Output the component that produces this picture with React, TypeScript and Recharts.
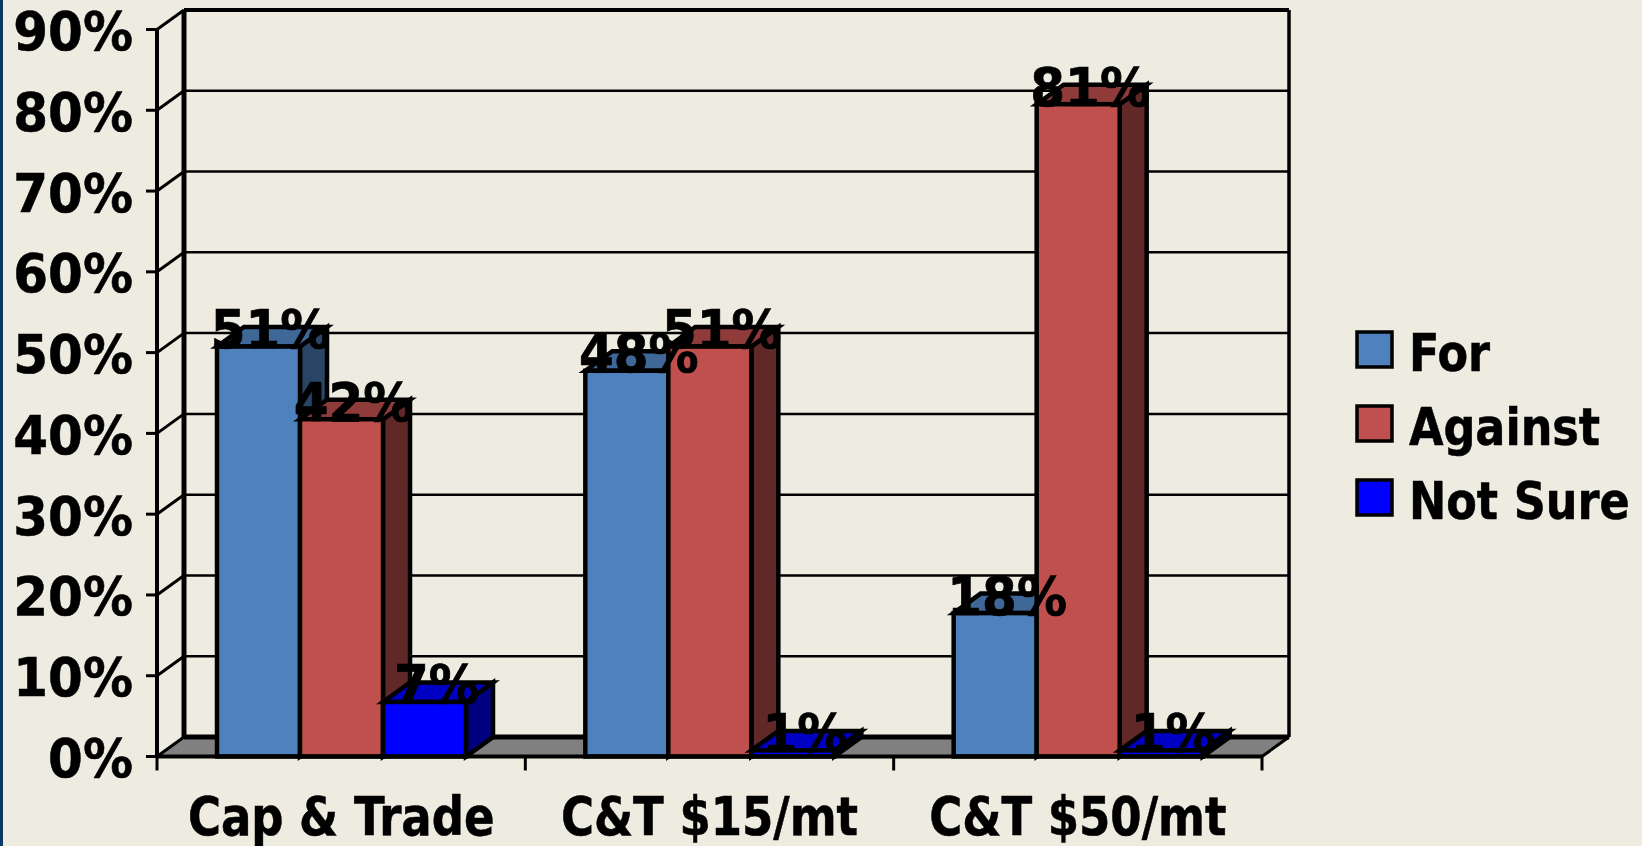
import React from "react";
import { BarChart, Bar, XAxis, YAxis, CartesianGrid, Legend, LabelList } from "recharts";

const categories = ["Cap & Trade", "C&T $15/mt", "C&T $50/mt"];
const forValues = [51, 48, 18];
const againstValues = [42, 51, 81];
const notSureValues = [7, 1, 1];
const yTicks = [0, 10, 20, 30, 40, 50, 60, 70, 80, 90];
const seriesNames = ["For", "Against", "Not Sure"];
const frontColors = ["#4F81BD", "#C0504D", "#0000FF"];
const topColors = ["#3F6797", "#8E3B39", "#0000C4"];
const sideColors = ["#2A4465", "#602827", "#000080"];

const rows = categories.map((category, i) => ({
  category,
  s0: forValues[i],
  s1: againstValues[i],
  s2: notSureValues[i],
}));

const DX = 27;
const DY = 19.5;
const TOP_NUDGE = 2;
const FONT = "'DejaVu Sans', sans-serif";
const FONT_NARROW = "'DejaVu Sans Condensed', 'DejaVu Sans', sans-serif";
const BG = "#EEECE1";

const makeBar = (idx: number) => (p: any) => {
  const { x, width } = p;
  const y = p.y + TOP_NUDGE;
  const height = p.height - TOP_NUDGE;
  const common = { stroke: "#000", strokeWidth: 4.5, strokeLinejoin: "miter" as const };
  return (
    <g>
      <polygon
        points={`${x + width},${y} ${x + width + DX},${y - DY} ${x + width + DX},${y + height - DY} ${x + width},${y + height}`}
        fill={sideColors[idx]}
        {...common}
      />
      <polygon
        points={`${x},${y} ${x + DX},${y - DY} ${x + width + DX},${y - DY} ${x + width},${y}`}
        fill={topColors[idx]}
        {...common}
      />
      <rect x={x} y={y} width={width} height={height} fill={frontColors[idx]} {...common} />
    </g>
  );
};

const barLabel = (p: any) => {
  const { x, y, width, value } = p;
  return (
    <text
      transform={`translate(${x + width / 2 + DX / 2 - 1.5},${y + 3.5}) scale(1,1.05)`}
      textAnchor="middle"
      fontFamily={FONT}
      fontWeight={700}
      fontSize={50}
      fill="#000"
      stroke="#000"
      strokeWidth={0.7}
    >
      {value}%
    </text>
  );
};

const gridLine = (p: any) => {
  const { x, y, width, height, x1, y1, x2 } = p;
  const isBottom = Math.abs(y1 - (y + height)) < 0.5;
  const isTop = Math.abs(y1 - y) < 0.5;
  return (
    <g>
      {isBottom && (
        <polygon
          points={`${x},${y1} ${x + width},${y1} ${x + width + DX},${y1 - DY} ${x + DX},${y1 - DY}`}
          fill="#808080"
        />
      )}
      {isBottom && (
        <line x1={x + width} y1={y1} x2={x + width + DX} y2={y1 - DY} stroke="#000" strokeWidth={3} />
      )}
      {isBottom && (
        <line x1={x + DX} y1={y - DY} x2={x + DX} y2={y1 - DY} stroke="#000" strokeWidth={5} />
      )}
      {isBottom && (
        <line x1={x + width + DX} y1={y - DY} x2={x + width + DX} y2={y1 - DY} stroke="#000" strokeWidth={3.5} />
      )}
      <line
        x1={x1 + DX}
        y1={y1 - DY}
        x2={x2 + DX}
        y2={y1 - DY}
        stroke="#000"
        strokeWidth={isBottom ? 5 : isTop ? 4 : 2.5}
      />
      <line x1={x1} y1={y1} x2={x1 + DX} y2={y1 - DY} stroke="#000" strokeWidth={3} />
    </g>
  );
};

const yTick = (p: any) => {
  const { x, y, payload } = p;
  return (
    <text
      transform={`translate(${x},${y + 20.5}) scale(1,1.05)`}
      textAnchor="end"
      fontFamily={FONT}
      fontWeight={700}
      fontSize={50}
      fill="#000"
      stroke="#000"
      strokeWidth={0.5}
    >
      {payload.value}%
    </text>
  );
};

const xTick = (p: any) => {
  const { x, y, index, payload } = p;
  const step = 1105 / categories.length;
  const left = x - step / 2;
  return (
    <g>
      <line x1={left} y1={y} x2={left} y2={y + 14} stroke="#000" strokeWidth={3} />
      {index === categories.length - 1 && (
        <line x1={x + step / 2} y1={y} x2={x + step / 2} y2={y + 14} stroke="#000" strokeWidth={3} />
      )}
      <text
        transform={`translate(${x},${y + 78.5}) scale(1,1.05)`}
        textAnchor="middle"
        fontFamily={FONT_NARROW}
        fontWeight={700}
        fontSize={50}
        fill="#000"
        stroke="#000"
        strokeWidth={0.5}
      >
        {payload.value}
      </text>
    </g>
  );
};

const legendContent = (p: any) => {
  const items = p.payload || [];
  return (
    <svg width={287} height={200} style={{ display: "block" }}>
      {items.map((it: any, i: number) => (
        <g key={it.value} transform={`translate(0,${i * 74})`}>
          <rect x={2} y={2} width={35} height={35} fill={frontColors[i]} stroke="#000" strokeWidth={3.5} />
          <text
            transform="translate(54,41) scale(1,1.05)"
            fontFamily={FONT_NARROW}
            fontWeight={700}
            fontSize={49.5}
            fill="#000"
            stroke="#000"
            strokeWidth={0.5}
          >
            {it.value}
          </text>
        </g>
      ))}
    </svg>
  );
};

export default function App() {
  return (
    <div
      style={{
        position: "absolute",
        left: 0,
        top: 0,
        width: 1642,
        height: 846,
        background: BG,
        overflow: "hidden",
      }}
    >
      <div style={{ position: "absolute", left: 0, top: 0, width: 3, height: 846, background: "#0A3A63" }} />
      <BarChart
        width={1642}
        height={846}
        data={rows}
        margin={{ top: 29.5, right: 380, bottom: 0, left: 0 }}
        barCategoryGap={60}
        barGap={0}
      >
        <CartesianGrid horizontal={gridLine} vertical={false} syncWithTicks />
        <XAxis
          dataKey="category"
          height={89.5}
          interval={0}
          tickLine={false}
          tickSize={0}
          tickMargin={0}
          axisLine={{ stroke: "#000", strokeWidth: 4 }}
          tick={xTick}
        />
        <YAxis
          width={157}
          domain={[0, 90]}
          ticks={yTicks}
          interval={0}
          tickSize={11}
          tickMargin={13}
          axisLine={{ stroke: "#000", strokeWidth: 4 }}
          tickLine={{ stroke: "#000", strokeWidth: 3 }}
          tick={yTick}
        />
        <Legend
          layout="vertical"
          align="center"
          verticalAlign="middle"
          itemSorter={null}
          content={legendContent}
          wrapperStyle={{ left: 1355, top: 330, width: 287, margin: 0 }}
        />
        {seriesNames.map((name, i) => (
          <Bar
            key={name}
            dataKey={`s${i}`}
            name={name}
            fill={frontColors[i]}
            isAnimationActive={false}
            shape={makeBar(i)}
          >
            <LabelList dataKey={`s${i}`} content={barLabel} />
          </Bar>
        ))}
      </BarChart>
    </div>
  );
}
